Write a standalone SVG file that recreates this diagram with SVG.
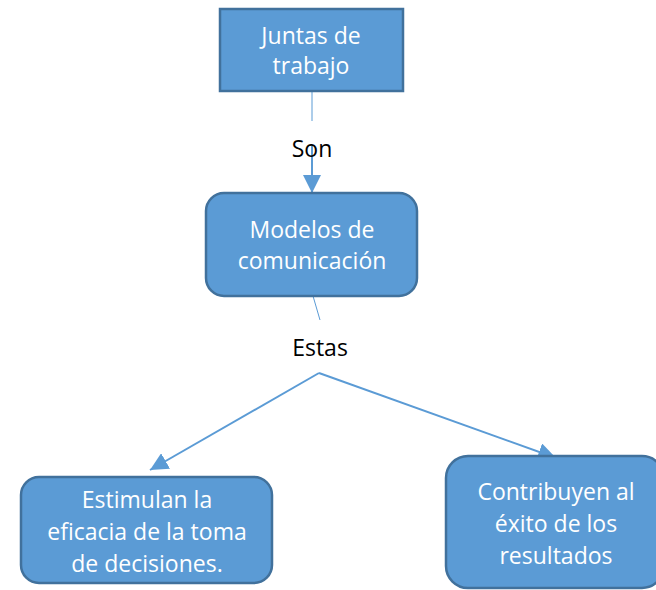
<svg xmlns="http://www.w3.org/2000/svg" width="656" height="590" viewBox="0 0 656 590">
<style>
.box{fill:#5B9BD5;stroke:#41719C;stroke-width:2.5}
.t{font-family:"Open Sans","Liberation Sans",sans-serif;font-size:23px;fill:#fff;text-anchor:middle}
.lbl{font-family:"Open Sans","Liberation Sans",sans-serif;font-size:23px;fill:#000;text-anchor:middle}
.c{stroke:#5B9BD5;fill:none}
</style>
<defs>
<marker id="ah" markerUnits="userSpaceOnUse" markerWidth="18" markerHeight="18" viewBox="0 0 16 16" refX="16" refY="8" orient="auto">
<path d="M0,0 L16,8 L0,16 Z" fill="#5B9BD5"/>
</marker>
</defs>
<rect width="656" height="590" fill="#fff"/>
<g id="connectors">
<line class="c" x1="312" y1="92" x2="312" y2="121" stroke-width="1"/>
<line class="c" x1="312" y1="146" x2="312" y2="193" stroke-width="2" marker-end="url(#ah)"/>
<line class="c" x1="313" y1="296" x2="320" y2="320" stroke-width="1"/>
<line class="c" x1="319" y1="373" x2="150" y2="470" stroke-width="2" marker-end="url(#ah)"/>
<line class="c" x1="319" y1="373" x2="556" y2="458" stroke-width="2" marker-end="url(#ah)"/>
</g>
<g id="lbl-son"><text class="lbl" x="312" y="157">Son</text></g>
<g id="lbl-estas"><text class="lbl" x="320" y="356">Estas</text></g>
<g id="juntas">
<rect class="box" x="220" y="9" width="183" height="82"/>
<text class="t" x="311" y="44">Juntas de</text>
<text class="t" x="311" y="74">trabajo</text>
</g>
<g id="modelos">
<rect class="box" x="206" y="193" width="211" height="103" rx="18"/>
<text class="t" x="312" y="238">Modelos de</text>
<text class="t" x="312" y="269">comunicación</text>
</g>
<g id="estimulan">
<rect class="box" x="21" y="477" width="251" height="106" rx="18"/>
<text class="t" x="147" y="508">Estimulan la</text>
<text class="t" x="147" y="540">eficacia de la toma</text>
<text class="t" x="147" y="572">de decisiones.</text>
</g>
<g id="contribuyen">
<rect class="box" x="446" y="456" width="218" height="132" rx="22"/>
<text class="t" x="556" y="500">Contribuyen al</text>
<text class="t" x="556" y="532">éxito de los</text>
<text class="t" x="556" y="564">resultados</text>
</g>
</svg>
